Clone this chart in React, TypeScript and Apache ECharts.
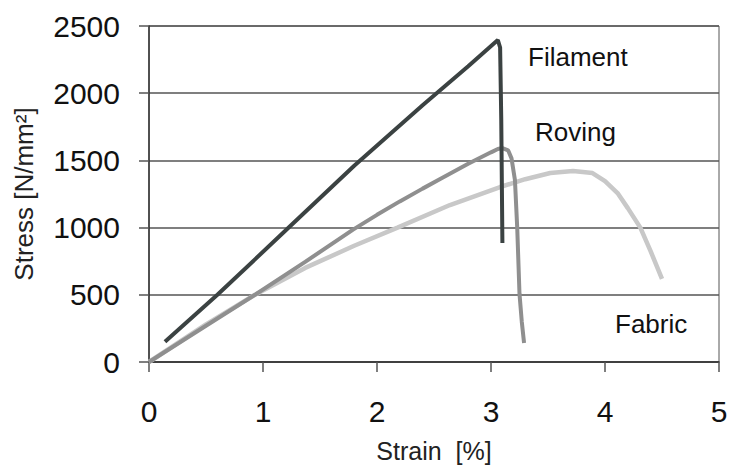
import React, { useEffect, useRef } from "react";
import * as echarts from "echarts";

const xTicks = { min: 0, max: 5, interval: 1 };
const yTicks = { min: 0, max: 2500, interval: 500 };

const filamentStrain = [0.14, 0.6, 1.2, 1.8, 2.4, 2.8, 3.06, 3.08, 3.09, 3.1];
const filamentStress = [150, 500, 980, 1460, 1910, 2200, 2396, 2340, 1800, 885];

const rovingStrain = [0, 0.5, 0.93, 1.37, 1.79, 2.0, 2.2, 2.4, 2.55, 2.8, 3.0, 3.06, 3.1, 3.15, 3.18, 3.21, 3.23, 3.25, 3.27, 3.29];
const rovingStress = [0, 270, 500, 745, 985, 1095, 1195, 1290, 1360, 1475, 1560, 1585, 1592, 1575, 1515, 1354, 1000, 506, 300, 141];

const fabricStrain = [0, 0.5, 0.93, 1.37, 1.8, 2.18, 2.64, 3.08, 3.3, 3.52, 3.72, 3.89, 4.0, 4.11, 4.2, 4.31, 4.4, 4.5];
const fabricStress = [0, 280, 500, 700, 865, 1000, 1168, 1302, 1360, 1406, 1421, 1406, 1345, 1257, 1145, 1000, 825, 618];

const seriesNames = ["Fabric", "Roving", "Filament"];
const xName = "Strain  [%]";
const yName = "Stress [N/mm²]";

const FONT = "'Liberation Sans', Arial, Helvetica, sans-serif";

const zip = (xs: number[], ys: number[]) => xs.map((x, i) => [x, ys[i]]);

export default function App() {
  const ref = useRef<HTMLDivElement>(null);
  useEffect(() => {
    if (!ref.current) return;
    const chart = echarts.init(ref.current, undefined, { renderer: "svg" });
    chart.setOption({
      animation: false,
      backgroundColor: "#ffffff",
      grid: {
        left: 149,
        right: 11,
        top: 26,
        bottom: 103,
        containLabel: false,
        outerBoundsMode: "none",
        show: true,
        borderColor: "#555555",
        borderWidth: 1,
      },
      xAxis: {
        type: "value",
        min: xTicks.min,
        max: xTicks.max,
        interval: xTicks.interval,
        name: xName,
        nameLocation: "middle",
        nameGap: 76,
        nameTextStyle: { fontFamily: FONT, fontSize: 25, color: "#222" },
        axisLine: { show: true, onZero: false, lineStyle: { color: "#333", width: 1.5 } },
        axisTick: { show: true, inside: false, length: 10, lineStyle: { color: "#555", width: 1.5 } },
        axisLabel: { fontFamily: FONT, fontSize: 30, color: "#111", margin: 34, formatter: (v: number) => String(v) },
        splitLine: { show: false },
      },
      yAxis: {
        type: "value",
        min: yTicks.min,
        max: yTicks.max,
        interval: yTicks.interval,
        name: yName,
        nameLocation: "middle",
        nameGap: 112,
        nameTextStyle: { fontFamily: FONT, fontSize: 26, color: "#222" },
        axisLine: { show: true, onZero: false, lineStyle: { color: "#333", width: 1.5 } },
        axisTick: { show: true, inside: false, length: 10, lineStyle: { color: "#555", width: 1.5 } },
        axisLabel: { fontFamily: FONT, fontSize: 30, color: "#111", margin: 29, formatter: (v: number) => String(v) },
        splitLine: { show: true, lineStyle: { color: "#555", width: 1.5 } },
      },
      series: [
        {
          name: seriesNames[0],
          type: "line",
          data: zip(fabricStrain, fabricStress),
          showSymbol: false,
          lineStyle: { color: "#c8c8c8", width: 4.5 },
          itemStyle: { color: "#c8c8c8" },
          z: 2,
        },
        {
          name: seriesNames[1],
          type: "line",
          data: zip(rovingStrain, rovingStress),
          showSymbol: false,
          lineStyle: { color: "#8f8f8f", width: 4 },
          itemStyle: { color: "#8f8f8f" },
          z: 3,
        },
        {
          name: seriesNames[2],
          type: "line",
          data: zip(filamentStrain, filamentStress),
          showSymbol: false,
          lineStyle: { color: "#3b4242", width: 4 },
          itemStyle: { color: "#3b4242" },
          z: 4,
        },
      ],
      graphic: [
        { type: "text", left: 528, top: 44, style: { text: seriesNames[2], fontFamily: FONT, fontSize: 26, fill: "#111" } },
        { type: "text", left: 535, top: 119, style: { text: seriesNames[1], fontFamily: FONT, fontSize: 26, fill: "#111" } },
        { type: "text", left: 615, top: 311, style: { text: seriesNames[0], fontFamily: FONT, fontSize: 26, fill: "#111" } },
      ],
    });
    return () => chart.dispose();
  }, []);
  return (
    <div
      ref={ref}
      style={{ position: "fixed", left: 0, top: 0, width: 730, height: 465, background: "#fff" }}
    />
  );
}
